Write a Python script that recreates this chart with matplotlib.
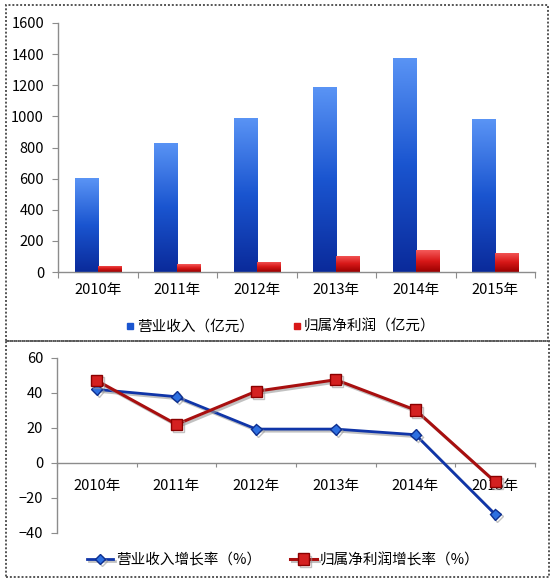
import matplotlib
matplotlib.use("Agg")
import matplotlib.pyplot as plt
import numpy as np
from matplotlib.colors import LinearSegmentedColormap
from matplotlib.patches import Rectangle
import matplotlib.patheffects as pe
from matplotlib.lines import Line2D
from matplotlib.ticker import FixedLocator, NullFormatter

plt.rcParams['font.family'] = ['Noto Sans CJK SC', 'DejaVu Sans']
plt.rcParams['font.weight'] = 'medium'

years = ["2010年", "2011年", "2012年", "2013年", "2014年", "2015年"]
revenue = [601, 832, 992, 1188, 1377, 981]
net_profit = [41, 49, 66, 105, 139, 125]
revenue_growth = [41.9, 37.7, 19.2, 19.2, 16.0, -29.5]
profit_growth = [46.9, 21.9, 40.8, 47.4, 30.1, -10.9]

W, H = 558, 587
fig = plt.figure(figsize=(W / 100, H / 100), dpi=100)

# panel borders
for (x0, y0, x1, y1) in [(6, 5, 548, 341), (6, 341, 549, 577)]:
    fig.patches.append(Rectangle((x0 / W, 1 - y1 / H), (x1 - x0) / W, (y1 - y0) / H,
                                 transform=fig.transFigure, fill=False,
                                 edgecolor='#555555', linestyle=(0, (1, 1)), linewidth=1.4))

axis_col = '#8c8c8c'
fs = 10.5
x = np.arange(len(years))

# ---------- top bar chart ----------
ax1 = fig.add_axes([58 / W, 1 - 272 / H, (535 - 58) / W, (272 - 23) / H])
bw = 0.29
blue_cmap = LinearSegmentedColormap.from_list('b', ['#0a2a9a', '#1a55d0', '#5a94f5'])
red_cmap = LinearSegmentedColormap.from_list('r', ['#9a0000', '#d81818', '#f55a5a'])
bars_b = ax1.bar(x - bw / 2, revenue, width=bw, color='none', edgecolor='none', zorder=2)
bars_r = ax1.bar(x + bw / 2, net_profit, width=bw, color='none', edgecolor='none', zorder=2)
grad = np.linspace(0, 1, 256).reshape(-1, 1)
for bars, cmap in [(bars_b, blue_cmap), (bars_r, red_cmap)]:
    for b in bars:
        bx, by = b.get_x(), b.get_y()
        bwid, bh = b.get_width(), b.get_height()
        im = ax1.imshow(grad, extent=[bx, bx + bwid, by, by + bh], origin='lower',
                        aspect='auto', cmap=cmap, zorder=2)
        im.set_clip_path(b)
ax1.set_xlim(-0.5, 5.5)
ax1.set_ylim(0, 1600)
ax1.set_yticks(range(0, 1601, 200))
ax1.xaxis.set_major_locator(FixedLocator(np.arange(-0.5, 6, 1)))
ax1.xaxis.set_major_formatter(NullFormatter())
ax1.xaxis.set_minor_locator(FixedLocator(x))
ax1.set_xticklabels(years, minor=True)
ax1.tick_params(axis='x', which='minor', length=0, pad=8, labelsize=fs)
ax1.tick_params(axis='x', which='major', length=4, color=axis_col, direction='out')
ax1.tick_params(axis='y', length=4, color=axis_col, labelsize=fs, pad=6)
for s in ['top', 'right']:
    ax1.spines[s].set_visible(False)
for s in ['left', 'bottom']:
    ax1.spines[s].set_color(axis_col)
    ax1.spines[s].set_linewidth(1.0)
handles1 = [Line2D([], [], marker='s', linestyle='none', markersize=5,
                   markerfacecolor='#1a55d0', markeredgecolor='#1a55d0'),
            Line2D([], [], marker='s', linestyle='none', markersize=5,
                   markerfacecolor='#d81818', markeredgecolor='#d81818')]
fig.legend(handles1, ['营业收入（亿元）', '归属净利润（亿元）'], loc='center',
           bbox_to_anchor=(280 / W, 1 - 327 / H), ncol=2, frameon=False,
           fontsize=fs, handletextpad=0.1, columnspacing=2.5, handlelength=0.8)

# ---------- bottom line chart ----------
ax2 = fig.add_axes([57 / W, 1 - 532.7 / H, (535 - 57) / W, (532.7 - 357.7) / H])
shadow = [pe.SimpleLineShadow(offset=(1.5, -1.5), shadow_color='#999999', alpha=0.6), pe.Normal()]
l1, = ax2.plot(x, revenue_growth, color='#1035a8', linewidth=2.0, marker='D', markersize=5.5,
               markerfacecolor='#2d6fe0', markeredgecolor='#0d2f90', zorder=3,
               path_effects=shadow)
l2, = ax2.plot(x, profit_growth, color='#a80f0f', linewidth=2.2, marker='s', markersize=8,
               markerfacecolor='#d42020', markeredgecolor='#8a0000', zorder=3,
               path_effects=shadow)
ax2.set_xlim(-0.5, 5.5)
ax2.set_ylim(-40, 60)
ax2.set_yticks(range(-40, 61, 20))
ax2.spines['bottom'].set_position(('data', 0))
ax2.xaxis.set_major_locator(FixedLocator(np.arange(-0.5, 6, 1)))
ax2.xaxis.set_major_formatter(NullFormatter())
ax2.xaxis.set_minor_locator(FixedLocator(x))
ax2.set_xticklabels(years, minor=True)
ax2.tick_params(axis='x', which='minor', length=0, pad=12, labelsize=fs)
ax2.tick_params(axis='x', which='major', length=3, color=axis_col, direction='out')
ax2.tick_params(axis='y', length=4, color=axis_col, labelsize=fs, pad=6)
for s in ['top', 'right']:
    ax2.spines[s].set_visible(False)
for s in ['left', 'bottom']:
    ax2.spines[s].set_color(axis_col)
    ax2.spines[s].set_linewidth(1.0)
fig.legend([l1, l2], ['营业收入增长率（%）', '归属净利润增长率（%）'], loc='center',
           bbox_to_anchor=(283 / W, 1 - 560 / H), ncol=2, frameon=False,
           fontsize=fs, handletextpad=0.2, columnspacing=2.0, handlelength=1.8)

fig.savefig('out.png', dpi=100)
